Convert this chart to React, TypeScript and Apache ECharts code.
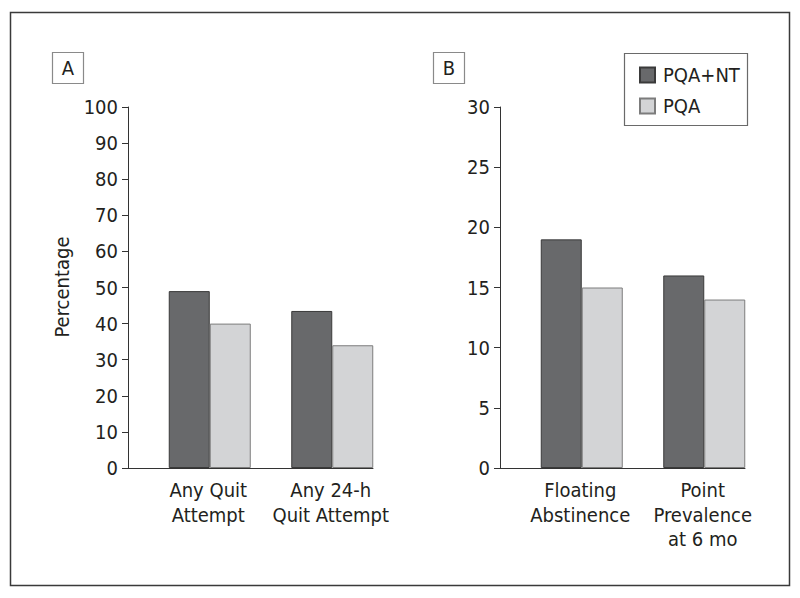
import React, { useEffect, useRef } from "react";
import * as echarts from "echarts";

const categoriesA = ["Any Quit\nAttempt", "Any 24-h\nQuit Attempt"];
const categoriesB = ["Floating\nAbstinence", "Point\nPrevalence\nat 6 mo"];
const pqaNtA = [49, 43.5];
const pqaA = [40, 34];
const pqaNtB = [19, 16];
const pqaB = [15, 14];
const seriesNames = ["PQA+NT", "PQA"];
const panelLetters = ["A", "B"];
const yNameA = "Percentage";

const FONT = "'Liberation Sans Narrow', 'DejaVu Sans Condensed', 'Roboto Condensed', 'Liberation Sans', sans-serif";
const TXT = "#231f20";
const DARK = "#68696b";
const LIGHT = "#d3d4d6";

export default function App() {
  const ref = useRef<HTMLDivElement>(null);
  useEffect(() => {
    if (!ref.current) return;
    const chart = echarts.init(ref.current, undefined, { renderer: "svg" });
    const barBase = { type: "bar", barWidth: 41, barGap: "0%" };
    const darkStyle = { color: DARK, borderColor: "#3a3a3a", borderWidth: 1 };
    const lightStyle = { color: LIGHT, borderColor: "#7c7c7c", borderWidth: 1 };
    const xAxisBase = {
      type: "category",
      axisLine: { lineStyle: { color: "#333", width: 1 } },
      axisTick: { show: false },
      axisLabel: {
        color: TXT,
        fontFamily: FONT,
        fontSize: 20,
        lineHeight: 24.5,
        margin: 10,
        padding: [0, 0, 0, 38],
        interval: 0,
      },
    };
    const yAxisBase = {
      type: "value",
      min: 0,
      axisLine: { show: true, lineStyle: { color: "#333", width: 1 } },
      axisTick: { show: true, length: 6, lineStyle: { color: "#333" } },
      axisLabel: { color: TXT, fontFamily: FONT, fontSize: 20, margin: 10 },
      splitLine: { show: false },
    };
    chart.setOption({
      animation: false,
      backgroundColor: "#fff",
      textStyle: { fontFamily: FONT },
      grid: [
        { left: 128, top: 107, width: 245, height: 361 },
        { left: 500, top: 107, width: 245, height: 361 },
      ],
      xAxis: [
        { ...xAxisBase, gridIndex: 0, data: categoriesA },
        { ...xAxisBase, gridIndex: 1, data: categoriesB },
      ],
      yAxis: [
        { ...yAxisBase, gridIndex: 0, max: 100, interval: 10 },
        { ...yAxisBase, gridIndex: 1, max: 30, interval: 5 },
      ],
      legend: {
        data: seriesNames,
        orient: "vertical",
        left: 639,
        top: 65,
        padding: 0,
        itemWidth: 15,
        itemHeight: 15,
        itemGap: 11,
        icon: "rect",
        textStyle: { color: TXT, fontFamily: FONT, fontSize: 20, lineHeight: 19, padding: [0, 0, 0, 3] },
        selectedMode: false,
      },
      series: [
        { ...barBase, name: "_padA", xAxisIndex: 0, yAxisIndex: 0, data: ["-", "-"] },
        { ...barBase, name: seriesNames[0], xAxisIndex: 0, yAxisIndex: 0, data: pqaNtA, itemStyle: darkStyle },
        { ...barBase, name: seriesNames[1], xAxisIndex: 0, yAxisIndex: 0, data: pqaA, itemStyle: lightStyle },
        { ...barBase, name: "_padB", xAxisIndex: 1, yAxisIndex: 1, data: ["-", "-"] },
        { ...barBase, name: seriesNames[0], xAxisIndex: 1, yAxisIndex: 1, data: pqaNtB, itemStyle: darkStyle },
        { ...barBase, name: seriesNames[1], xAxisIndex: 1, yAxisIndex: 1, data: pqaB, itemStyle: lightStyle },
      ],
      graphic: [
        {
          type: "rect",
          shape: { x: 10.5, y: 12.5, width: 779, height: 573 },
          style: { fill: "none", stroke: "#3a3a3a", lineWidth: 1.5 },
        },
        {
          type: "rect",
          shape: { x: 52.5, y: 52.5, width: 31, height: 31 },
          style: { fill: "none", stroke: "#8a8a8a", lineWidth: 1.2 },
        },
        {
          type: "text",
          x: 68,
          y: 68,
          style: { text: panelLetters[0], fill: TXT, font: `20px ${FONT}`, textAlign: "center", textVerticalAlign: "middle" },
        },
        {
          type: "rect",
          shape: { x: 433.5, y: 52.5, width: 31, height: 31 },
          style: { fill: "none", stroke: "#8a8a8a", lineWidth: 1.2 },
        },
        {
          type: "text",
          x: 449,
          y: 68,
          style: { text: panelLetters[1], fill: TXT, font: `20px ${FONT}`, textAlign: "center", textVerticalAlign: "middle" },
        },
        {
          type: "rect",
          shape: { x: 624.5, y: 53.5, width: 123, height: 72 },
          style: { fill: "none", stroke: "#6a6a6a", lineWidth: 1.2 },
        },
        {
          type: "text",
          x: 62,
          y: 287,
          rotation: Math.PI / 2,
          style: { text: yNameA, fill: TXT, font: `20px ${FONT}`, textAlign: "center", textVerticalAlign: "middle" },
        },
      ],
    });
    return () => chart.dispose();
  }, []);
  return (
    <div
      ref={ref}
      style={{ position: "fixed", left: 0, top: 0, width: 800, height: 598, background: "#fff" }}
    />
  );
}
